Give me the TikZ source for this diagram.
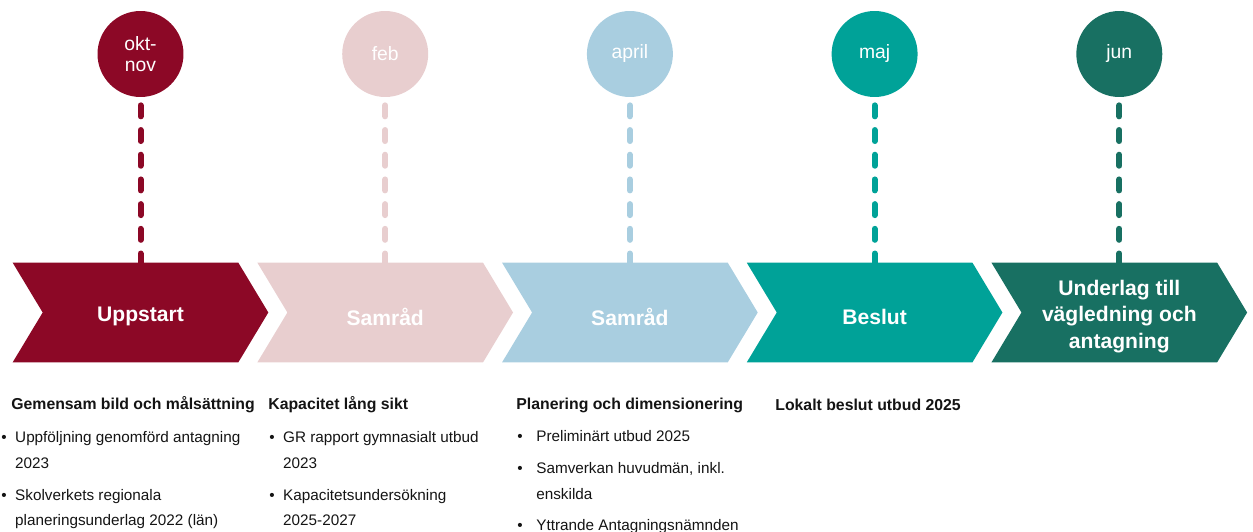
\documentclass[tikz,border=0pt]{standalone}
\usepackage{fontspec}
\setmainfont{Liberation Sans}
\usepackage{xcolor}
\usepackage{tikz}
\usetikzlibrary{positioning, calc, backgrounds}
\definecolor{startcolor}{RGB}{140,8,38}
\definecolor{febcolor}{RGB}{232,206,207}
\definecolor{aprilcolor}{RGB}{169,206,224}
\definecolor{decisioncolor}{RGB}{0,162,152}
\definecolor{junecolor}{RGB}{24,112,98}
\definecolor{textcolor}{RGB}{20,20,20}
\newcommand{\chevronfill}[2]{%
  \fill[#2] ($(#1.north west)+(-15,-4)$) -- ($(#1.north east)+(-15,-4)$) -- ($(#1.east)+(15,-4)$)
    -- ($(#1.south east)+(-15,-4)$) -- ($(#1.south west)+(-15,-4)$) -- ($(#1.west)+(15,-4)$) -- cycle;}
\newcommand{\bul}[1]{\makebox[#1][l]{\textbullet}}

\begin{document}
\begin{tikzpicture}[
    x=0.02cm, y=-0.02cm,
    month/.style={circle, minimum size=1.72cm, inner sep=0, text=white, align=center, font=\fontsize{11}{11.5}\selectfont},
    stage/.style={minimum width=4.5cm, minimum height=1.98cm, inner sep=0, text=white, align=center, font=\bfseries\fontsize{12}{15}\selectfont},
    dashline/.style={line width=0.12cm, line cap=round, dash pattern=on 0.22cm off 0.274cm, shorten <=0.16cm},
    heading/.style={anchor=west, inner sep=0, text=textcolor, font=\bfseries\fontsize{9}{11}\selectfont},
    items/.style={anchor=north west, inner sep=0, align=left, text=textcolor, font=\fontsize{8.7}{14.7}\selectfont}
]
    \useasboundingbox (0,0) rectangle (1253,531);

    % Months
    \node[month, fill=startcolor] (okt) at (140.5,54) {okt-\\nov};
    \node[month, fill=febcolor] (feb) at (385.2,54) {feb};
    \node[month, fill=aprilcolor] (april) at (629.9,54) {april};
    \node[month, fill=decisioncolor] (maj) at (874.6,54) {maj};
    \node[month, fill=junecolor] (jun) at (1119.3,54) {jun};

    % Stages
    \node[stage] (uppstart) at (140.5,316.5) {Uppstart};
    \node[stage] (samrad1) at (385.2,316.5) {Samråd};
    \node[stage] (samrad2) at (629.9,316.5) {Samråd};
    \node[stage] (beslut) at (874.6,316.5) {Beslut};
    \node[stage] (underlag) at (1119.3,316.5) {Underlag till\\vägledning och\\antagning};

    \begin{scope}[on background layer]
        \chevronfill{uppstart}{startcolor}
        \chevronfill{samrad1}{febcolor}
        \chevronfill{samrad2}{aprilcolor}
        \chevronfill{beslut}{decisioncolor}
        \chevronfill{underlag}{junecolor}
    \end{scope}

    % Dashed links
    \draw[dashline, startcolor] (okt) -- (uppstart);
    \draw[dashline, febcolor] (feb) -- (samrad1);
    \draw[dashline, aprilcolor] (april) -- (samrad2);
    \draw[dashline, decisioncolor] (maj) -- (beslut);
    \draw[dashline, junecolor] (jun) -- (underlag);

    % Activities
    \node[heading] (gemensam) at (11,405) {Gemensam bild och målsättning};
    \node[items] (gemlist) at (1,431) {\bul{7.9pt}Uppföljning genomförd antagning\\\hspace*{7.9pt}2023\\[3.4pt]
        \bul{7.9pt}Skolverkets regionala\\\hspace*{7.9pt}planeringsunderlag 2022 (län)};

    \node[heading] (kapacitet) at (268,405) {Kapacitet lång sikt};
    \node[items] (kaplist) at (269,431) {\bul{7.9pt}GR rapport gymnasialt utbud\\\hspace*{7.9pt}2023\\[3.4pt]
        \bul{7.9pt}Kapacitetsundersökning\\\hspace*{7.9pt}2025-2027};

    \node[heading] (planering) at (516,405) {Planering och dimensionering};
    \node[items] (planlist) at (517,430) {\bul{10.8pt}Preliminärt utbud 2025\\[3.4pt]
        \bul{10.8pt}Samverkan huvudmän, inkl.\\\hspace*{10.8pt}enskilda\\[3.4pt]
        \bul{10.8pt}Yttrande Antagningsnämnden};

    \node[heading] (lokalt) at (775,405) {Lokalt beslut utbud 2025};
\end{tikzpicture}
\end{document}
